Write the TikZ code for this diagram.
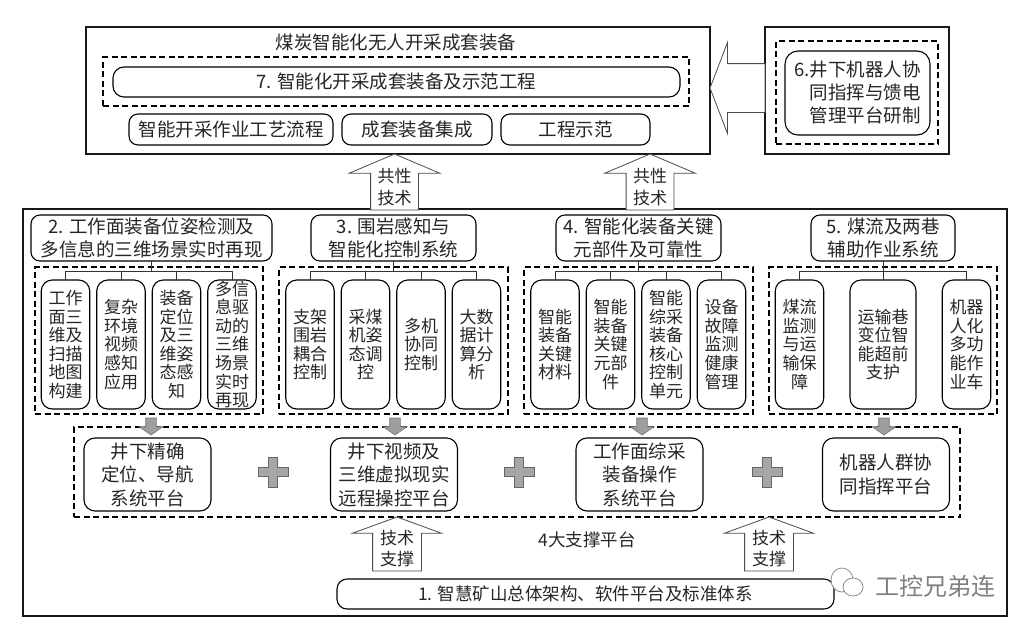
\documentclass[tikz,border=0pt]{standalone}
\usepackage{xcolor}
\usepackage{fontspec}
\setmainfont{Noto Sans CJK SC}
\usetikzlibrary{positioning, shapes.arrows}

\tikzset{
    outerbox/.style={draw, line width=1.2pt, draw=black!90, inner sep=0pt, outer sep=0pt},
    dashbox/.style={draw, line width=1.1pt, dash pattern=on 6pt off 3.5pt, inner sep=0pt, outer sep=0pt},
    roundbox/.style={draw, line width=1.1pt, rounded corners=9pt, fill=white, align=center, inner sep=0pt, outer sep=0pt, text=black!85},
    titlebox/.style={roundbox, minimum height=46pt, font=\fontsize{18.5}{23}\selectfont},
    itembox/.style={roundbox, minimum height=129pt, minimum width=48.5pt, rounded corners=11pt, font=\fontsize{17}{18.6}\selectfont},
    platbox/.style={roundbox, minimum height=73pt, minimum width=127pt, rounded corners=11pt, font=\fontsize{18.5}{23.5}\selectfont},
    rowbox/.style={roundbox, minimum height=31pt, font=\fontsize{18.5}{22}\selectfont},
    blockarrow/.style={draw=black!70, fill=white, line width=0.8pt, single arrow, align=center, inner sep=0pt, outer sep=0pt, text=black!85, font=\fontsize{17}{21.5}\selectfont, anchor=tip},
    grayarrow/.style={draw=black!55, fill=black!38, line width=0.6pt, single arrow, inner sep=0pt, outer sep=0pt, anchor=tip, shape border rotate=270, minimum height=17pt, minimum width=23pt, text width=10pt, single arrow head extend=6.5pt, single arrow tip angle=110},
    plusmark/.style={draw=black!60, fill=black!35, line width=0.8pt},
    tree/.style={line width=0.8pt, draw=black!80},
    wmark/.style={draw=black!45, fill=white, line width=0.8pt}
}

\begin{document}
\begin{tikzpicture}[x=1pt, y=-1pt, every node/.style={align=center}]
        \useasboundingbox (0,0) rectangle (1027,627);

        % top part
        \node (equipbox) [outerbox, minimum width=624pt, minimum height=127pt] at (398,90.5) {};
        \node (equiptitle) [font=\fontsize{18.5}{22}\selectfont, text=black!85] at (396,42.5) {煤炭智能化无人开采成套装备};
        \node (groupseven) [dashbox, minimum width=586pt, minimum height=49pt] at (396,81.5) {};
        \node (seven) [roundbox, minimum width=567pt, minimum height=30pt, rounded corners=11pt, font=\fontsize{18.5}{22}\selectfont] at (396.5,82) {7. 智能化开采成套装备及示范工程};
        \node (craft) [rowbox, minimum width=204pt] at (231,129.5) {智能开采作业工艺流程};
        \node (integ) [rowbox, minimum width=150pt, right=9pt of craft] {成套装备集成};
        \node (demo) [rowbox, minimum width=149pt, right=9pt of integ] {工程示范};

        \node (robotbox) [outerbox, minimum width=184pt, minimum height=127pt] at (857,90.5) {};
        \node (groupsix) [dashbox, minimum width=162pt, minimum height=103pt] at (857,92.5) {};
        \node (six) [roundbox, minimum width=145pt, minimum height=84pt, rounded corners=13pt, align=right, font=\fontsize{18.5}{23}\selectfont] at (857.5,93) {6.井下机器人协\\同指挥与馈电\\管理平台研制};

        \node (sixarrow) [blockarrow, shape border rotate=180, minimum height=55pt, minimum width=90pt, text height=48pt, text depth=0pt, single arrow head extend=21pt, single arrow tip angle=138] at (710,88) {};

        % lower part
        \node (mainbox) [outerbox, minimum width=984pt, minimum height=407pt] at (515,412.5) {};
        \node (techa) [blockarrow, shape border rotate=90, minimum height=56pt, minimum width=90pt, text width=47pt, single arrow head extend=21.5pt, single arrow tip angle=134] at (394.5,154) {共性\\技术};
        \node (techb) [blockarrow, shape border rotate=90, minimum height=56pt, minimum width=90pt, text width=47pt, single arrow head extend=21.5pt, single arrow tip angle=134] at (650,154) {共性\\技术};

        \node (groupa) [dashbox, minimum width=228pt, minimum height=147pt] at (149,340.5) {};
        \node (groupb) [dashbox, minimum width=229pt, minimum height=147pt] at (393.5,340.5) {};
        \node (groupc) [dashbox, minimum width=229pt, minimum height=147pt] at (638.5,340.5) {};
        \node (groupd) [dashbox, minimum width=228pt, minimum height=147pt] at (883,340.5) {};

        \node (titlea) [titlebox, minimum width=241pt] at (151.5,238) {2. 工作面装备位姿检测及\\多信息的三维场景实时再现};
        \node (titleb) [titlebox, minimum width=165pt] at (393.5,238) {3. 围岩感知与\\智能化控制系统};
        \node (titlec) [titlebox, minimum width=165pt] at (638.5,238) {4. 智能化装备关键\\元部件及可靠性};
        \node (titled) [titlebox, minimum width=144pt] at (883,238) {5. 煤流及两巷\\辅助作业系统};

        \node (scan) [itembox] at (65.5,344.5) {工作\\面三\\维及\\扫描\\地图\\构建};
        \node (video) [itembox, right=7pt of scan] {复杂\\环境\\视频\\感知\\应用};
        \node (pose) [itembox, right=7pt of video] {装备\\定位\\及三\\维姿\\态感\\知};
        \node (scene) [itembox, right=7pt of pose] {多信\\息驱\\动的\\三维\\场景\\实时\\再现};

        \node (roof) [itembox] at (310,344.5) {支架\\围岩\\耦合\\控制};
        \node (shearer) [itembox, right=7pt of roof] {采煤\\机姿\\态调\\控};
        \node (multi) [itembox, right=7pt of shearer] {多机\\协同\\控制};
        \node (bigdata) [itembox, right=7pt of multi] {大数\\据计\\算分\\析};

        \node (material) [itembox] at (555,344.5) {智能\\装备\\关键\\材料};
        \node (parts) [itembox, right=7pt of material] {智能\\装备\\关键\\元部\\件};
        \node (core) [itembox, right=7pt of parts] {智能\\综采\\装备\\核心\\控制\\单元};
        \node (health) [itembox, right=7pt of core] {设备\\故障\\监测\\健康\\管理};

        \node (coal) [itembox] at (799.5,344.5) {煤流\\监测\\与运\\输保\\障};
        \node (support) [itembox, minimum width=66pt] at (883,344.5) {运输巷\\变位智\\能超前\\支护};
        \node (vehicle) [itembox] at (966.5,344.5) {机器\\人化\\多功\\能作\\业车};

        \draw[tree] (titlea.south) -- ++(0,10) -| (scan.north);
        \draw[tree] (titlea.south) -- ++(0,10) -| (video.north);
        \draw[tree] (titlea.south) -- ++(0,10) -| (pose.north);
        \draw[tree] (titlea.south) -- ++(0,10) -| (scene.north);
        \draw[tree] (titleb.south) -- ++(0,10) -| (roof.north);
        \draw[tree] (titleb.south) -- ++(0,10) -| (shearer.north);
        \draw[tree] (titleb.south) -- ++(0,10) -| (multi.north);
        \draw[tree] (titleb.south) -- ++(0,10) -| (bigdata.north);
        \draw[tree] (titlec.south) -- ++(0,10) -| (material.north);
        \draw[tree] (titlec.south) -- ++(0,10) -| (parts.north);
        \draw[tree] (titlec.south) -- ++(0,10) -| (core.north);
        \draw[tree] (titlec.south) -- ++(0,10) -| (health.north);
        \draw[tree] (titled.south) -- ++(0,10) -| (coal.north);
        \draw[tree] (titled.south) -- (support.north);
        \draw[tree] (titled.south) -- ++(0,10) -| (vehicle.north);

        % platforms
        \node (groupplat) [dashbox, minimum width=886pt, minimum height=90pt] at (517,472) {};
        \node (plata) [platbox] at (147.5,474.5) {井下精确\\定位、导航\\系统平台};
        \node (platb) [platbox] at (394,474.5) {井下视频及\\三维虚拟现实\\远程操控平台};
        \node (platc) [platbox] at (639.5,474.5) {工作面综采\\装备操作\\系统平台};
        \node (platd) [platbox] at (886,474.5) {机器人群协\\同指挥平台};

        \node (downa) [grayarrow] at (151,435) {};
        \node (downb) [grayarrow] at (395,435) {};
        \node (downc) [grayarrow] at (642,435) {};
        \node (downd) [grayarrow] at (884,435) {};

        \foreach \x in {273,519,767}
            \draw[plusmark] (\x-4.5,457) -- ++(9,0) -- ++(0,10.5) -- ++(10.5,0) -- ++(0,9) -- ++(-10.5,0) -- ++(0,10.5) -- ++(-9,0) -- ++(0,-10.5) -- ++(-10.5,0) -- ++(0,-9) -- ++(10.5,0) -- cycle;

        \node (fourplat) [font=\fontsize{17.5}{21}\selectfont, text=black!85] at (587,540) {4大支撑平台};
        \node (supporta) [blockarrow, shape border rotate=90, minimum height=54pt, minimum width=88pt, text width=48pt, single arrow head extend=20pt, single arrow tip angle=140] at (397,517) {技术\\支撑};
        \node (supportb) [blockarrow, shape border rotate=90, minimum height=54pt, minimum width=88pt, text width=48pt, single arrow head extend=20pt, single arrow tip angle=140] at (769,517) {技术\\支撑};
        \node (one) [roundbox, minimum width=497pt, minimum height=30pt, rounded corners=10pt, font=\fontsize{17.5}{21}\selectfont] at (585.5,594) {1. 智慧矿山总体架构、软件平台及标准体系};

        % watermark
        \draw[wmark] (842,580) ellipse (11 and 12);
        \draw[wmark] (853,587) ellipse (10 and 9);
        \node (wmtext) [font=\fontsize{24}{28}\selectfont, text=black!50] at (935,586) {工控兄弟连};
    \end{tikzpicture}
\end{document}
